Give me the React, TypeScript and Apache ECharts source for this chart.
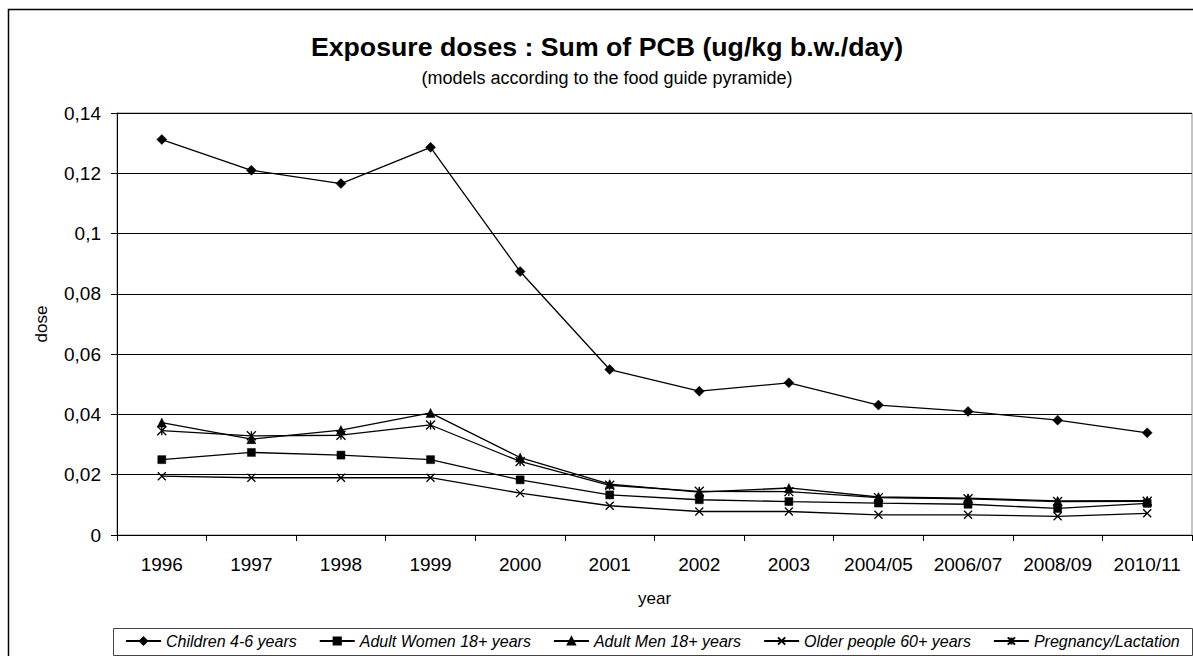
import React, { useEffect, useRef } from "react";
import * as echarts from "echarts";

const categories = ["1996", "1997", "1998", "1999", "2000", "2001", "2002", "2003", "2004/05", "2006/07", "2008/09", "2010/11"];
const children = [0.1312, 0.1210, 0.1166, 0.1286, 0.0874, 0.0549, 0.0477, 0.0505, 0.0431, 0.0410, 0.0381, 0.0339];
const women = [0.0250, 0.0274, 0.0265, 0.0250, 0.0183, 0.0133, 0.0117, 0.0111, 0.0106, 0.0102, 0.0088, 0.0105];
const men = [0.0373, 0.0318, 0.0348, 0.0405, 0.0257, 0.0169, 0.0142, 0.0156, 0.0126, 0.0122, 0.0113, 0.0114];
const older = [0.0195, 0.0190, 0.0190, 0.0190, 0.0139, 0.0097, 0.0078, 0.0078, 0.0067, 0.0067, 0.0062, 0.0072];
const pregnancy = [0.0346, 0.0329, 0.0331, 0.0365, 0.0244, 0.0165, 0.0145, 0.0144, 0.0124, 0.0120, 0.0111, 0.0112];
const seriesNames = ["Children 4-6 years", "Adult Women 18+ years", "Adult Men 18+ years", "Older people 60+ years", "Pregnancy/Lactation"];

const FONT = "'Liberation Sans', Arial, sans-serif";
const X_SYMBOL = "path://M0,0L10,10M10,0L0,10";
const STAR_SYMBOL = "path://M0,0L10,10M10,0L0,10M5,0L5,10";

export default function App() {
  const ref = useRef<HTMLDivElement>(null);
  useEffect(() => {
    document.body.style.margin = "0";
    if (!ref.current) return;
    const chart = echarts.init(ref.current, null, { renderer: "svg" });
    const mk = (name: string, data: number[], symbol: string, size: number, open = false) => ({
      name,
      type: "line",
      data,
      symbol,
      symbolSize: size,
      showSymbol: true,
      lineStyle: { color: "#000", width: 1.3 },
      itemStyle: open
        ? { color: "none", borderColor: "#000", borderWidth: 1.3 }
        : { color: "#000", borderColor: "#000", borderWidth: 0.5 },
      emphasis: { disabled: true },
      z: 3,
    });
    chart.setOption({
      animation: false,
      backgroundColor: "#fff",
      textStyle: { fontFamily: FONT, color: "#000" },
      graphic: [
        {
          type: "rect",
          shape: { x: 8.5, y: 9.5, width: 1210, height: 700 },
          style: { fill: "none", stroke: "#000", lineWidth: 1.5 },
          silent: true,
        },
        {
          type: "rect",
          shape: { x: 113.5, y: 628.5, width: 1079, height: 27 },
          style: { fill: "none", stroke: "#444", lineWidth: 1 },
          silent: true,
        },
        {
          type: "text",
          x: 607,
          y: 47,
          style: {
            text: "Exposure doses : Sum of PCB (ug/kg b.w./day)",
            font: `bold 26.7px ${FONT}`,
            fill: "#000",
            align: "center",
            verticalAlign: "middle",
          },
        },
        {
          type: "text",
          x: 607,
          y: 78,
          style: {
            text: "(models according to the food guide pyramide)",
            font: `18px ${FONT}`,
            fill: "#000",
            align: "center",
            verticalAlign: "middle",
          },
        },
      ],
      legend: {
        data: seriesNames,
        left: 125,
        top: 633,
        padding: 0,
        itemWidth: 35,
        itemHeight: 9,
        itemGap: 22,
        selectedMode: false,
        textStyle: { fontFamily: FONT, fontSize: 16, fontStyle: "italic", color: "#000" },
      },
      grid: {
        left: 117,
        right: 1,
        top: 113,
        bottom: 121,
        show: true,
        borderColor: "#888",
        borderWidth: 1,
        outerBoundsMode: "none",
      },
      xAxis: {
        type: "category",
        data: categories,
        boundaryGap: true,
        name: "year",
        nameLocation: "middle",
        nameGap: 55,
        nameTextStyle: { fontFamily: FONT, fontSize: 17, color: "#000" },
        axisLine: { lineStyle: { color: "#000", width: 1 } },
        axisTick: { show: true, length: 6, alignWithLabel: false, lineStyle: { color: "#000" } },
        axisLabel: { fontFamily: FONT, fontSize: 19, color: "#000", margin: 20, interval: 0 },
        splitLine: { show: false },
      },
      yAxis: {
        type: "value",
        min: 0,
        max: 0.14,
        interval: 0.02,
        name: "dose",
        nameLocation: "middle",
        nameGap: 67,
        nameTextStyle: { fontFamily: FONT, fontSize: 17, color: "#000" },
        axisLine: { show: true, lineStyle: { color: "#000", width: 1 } },
        axisTick: { show: true, length: 6, lineStyle: { color: "#000" } },
        axisLabel: {
          fontFamily: FONT,
          fontSize: 19,
          color: "#000",
          margin: 16,
          formatter: (v: number) => String(parseFloat(v.toFixed(2))).replace(".", ","),
        },
        splitLine: { show: true, lineStyle: { color: "#000", width: 1 } },
      },
      series: [
        mk(seriesNames[0], children, "diamond", 10),
        mk(seriesNames[1], women, "rect", 8),
        mk(seriesNames[2], men, "triangle", 9),
        mk(seriesNames[3], older, X_SYMBOL, 8, true),
        mk(seriesNames[4], pregnancy, STAR_SYMBOL, 9, true),
      ],
    });
    return () => chart.dispose();
  }, []);
  return <div ref={ref} style={{ width: 1193, height: 656 }} />;
}
